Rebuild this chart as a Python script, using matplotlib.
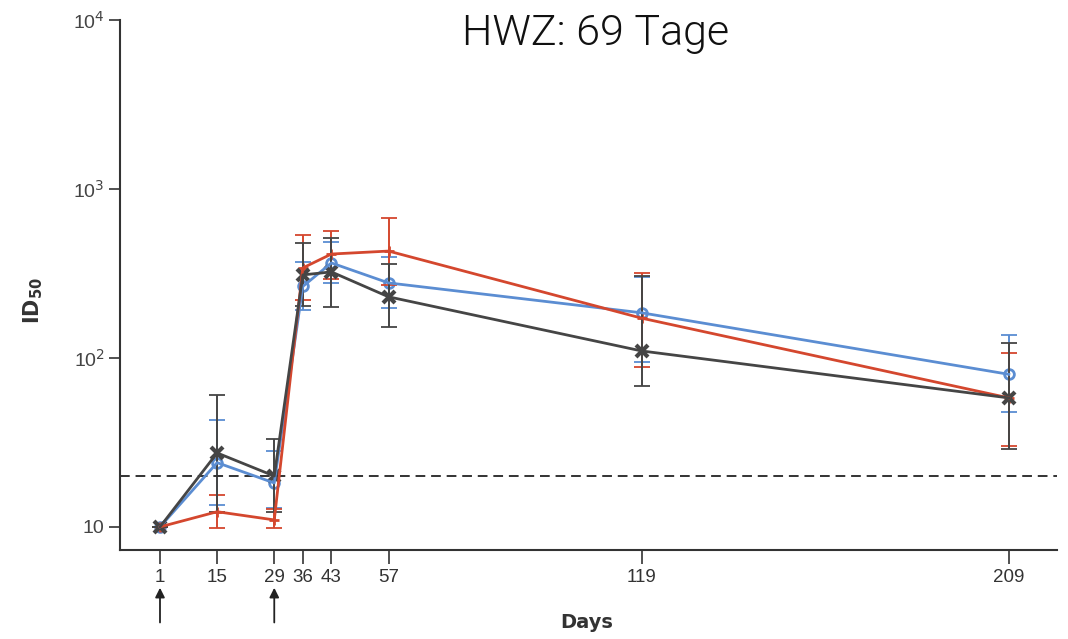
import matplotlib.pyplot as plt
from matplotlib.ticker import FixedLocator, NullLocator
from matplotlib.transforms import blended_transform_factory

days = [1, 15, 29, 36, 43, 57, 119, 209]
day_labels = ['1', '15', '29', '36', '43', '57', '119', '209']

# geometric mean titres with lower / upper CI ends
blue = [10, 24, 18.2, 265, 365, 278, 185, 80]
blue_lo = [10, 13.5, 13, 192, 278, 198, 95, 48]
blue_hi = [10, 43, 28, 370, 486, 396, 300, 137]

red = [10, 12.3, 11, 341, 412, 429, 172, 58]
red_lo = [10, 9.9, 9.9, 220, 293, 270, 88, 30]
red_hi = [10, 15.5, 12.8, 535, 564, 673, 318, 107]

gray = [10, 27.4, 20, 310, 323, 230, 110, 58]
gray_lo = [10, 12.3, 12.3, 203, 200, 152, 68, 29]
gray_hi = [10, 60, 33, 479, 512, 360, 305, 123]

threshold = 20
dose_days = [1, 29]

fig = plt.figure(figsize=(10.68, 6.39), dpi=100)
ax = fig.add_axes([120 / 1068, 89 / 639, 937 / 1068, 530 / 639])

series = [
    (blue, blue_lo, blue_hi, '#5b8dd2', 'o', 'none', 7, 2),
    (red, red_lo, red_hi, '#d4472e', '+', '#d4472e', 7, 2),
    (gray, gray_lo, gray_hi, '#454545', 'x', '#454545', 8, 3),
]
for vals, lo, hi, col, mk, fc, ms, mew in series:
    err = [[v - l for v, l in zip(vals, lo)], [h - v for v, h in zip(vals, hi)]]
    ax.errorbar(days, vals, yerr=err, color=col, lw=2, capsize=5.5, capthick=1.3,
                elinewidth=1.4)
    ax.plot(days, vals, ls='none', marker=mk, ms=ms, mfc=fc, mec=col, mew=mew)

ax.axhline(threshold, color='#333333', lw=1.4, ls=(0, (5, 3)))

ax.set_yscale('log')
ax.set_ylim(7.3, 1e4)
ax.set_xlim(-8.8, 220.8)
ax.yaxis.set_major_locator(FixedLocator([10, 100, 1000, 10000]))
ax.yaxis.set_minor_locator(NullLocator())
ax.set_yticklabels(['10', '10$^2$', '10$^3$', '10$^4$'], fontsize=14, color='#444444',
                   family='Liberation Sans')
ax.set_xticks(days)
ax.set_xticklabels(day_labels, fontsize=13.5, color='#333333', family='Liberation Sans')

for s in ['top', 'right']:
    ax.spines[s].set_visible(False)
for s in ['left', 'bottom']:
    ax.spines[s].set_linewidth(1.5)
    ax.spines[s].set_color('#333333')
ax.tick_params(axis='x', length=10, width=1.2, color='#333333', pad=4)
ax.tick_params(axis='y', length=8, width=1.2, color='#333333', pad=3)

ax.set_ylabel(r'$\mathbf{ID_{50}}$', fontsize=15, color='#333333')
ax.yaxis.set_label_coords(-0.08, 0.47)
ax.set_xlabel('Days', fontsize=14, fontweight='bold', color='#333333')
ax.xaxis.set_label_coords(0.498, -0.136)
ax.xaxis.label.set_va('center')

# dose arrows under the axis
tr = blended_transform_factory(ax.transData, ax.transAxes)
for d in dose_days:
    ax.annotate('', xy=(d, -0.066), xytext=(d, -0.142), xycoords=tr, textcoords=tr,
                arrowprops=dict(arrowstyle='-|>', color='#222222', lw=1.3,
                                mutation_scale=14), annotation_clip=False)

fig.text(596 / 1068, 1 - 34 / 639, 'HWZ: 69 Tage', fontsize=31, family='Roboto',
         fontweight=300, ha='center', va='center', color='#111111')

fig.savefig('out.png', dpi=100)
